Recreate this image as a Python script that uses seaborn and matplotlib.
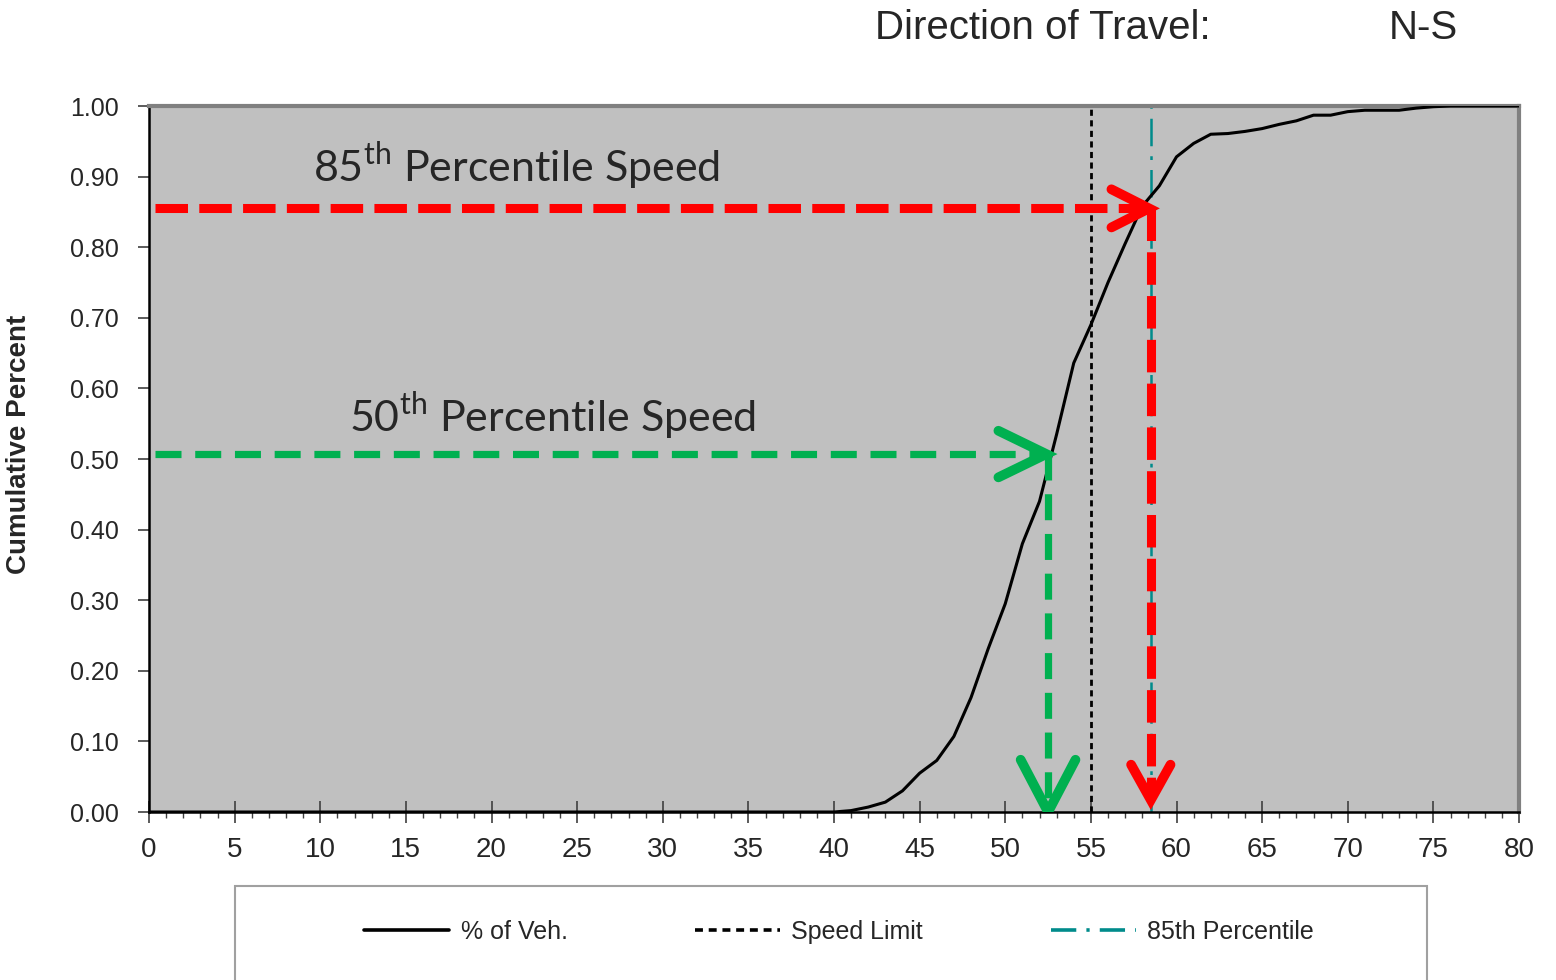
import numpy as np
import pandas as pd
import seaborn as sns
import matplotlib.pyplot as plt
from matplotlib.patches import Rectangle
from matplotlib.ticker import MultipleLocator

# cumulative share of vehicles by speed (mph)
speeds = list(range(0, 81))
cum_pct = ([0.0] * 41 +
           [0.002, 0.007, 0.014, 0.030, 0.055, 0.073, 0.107, 0.162, 0.231, 0.295,
            0.380, 0.440, 0.535, 0.636, 0.690, 0.750, 0.805, 0.858, 0.887, 0.928,
            0.947, 0.960, 0.961, 0.964, 0.968, 0.974, 0.979, 0.987, 0.987, 0.992,
            0.994, 0.994, 0.994, 0.997, 0.999, 1.0, 1.0, 1.0, 1.0, 1.0])

speed_limit = 55
p85 = 58.5
p50 = 52.5
level85 = 0.855
level50 = 0.507

sns.set_style("white")
plt.rcParams['font.family'] = ['Liberation Sans', 'DejaVu Sans']
plt.rcParams['mathtext.fontset'] = 'custom'
plt.rcParams['mathtext.rm'] = 'Lato'

df = pd.DataFrame({'speed': speeds, 'cum': cum_pct})

fig = plt.figure(figsize=(15.56, 9.8), dpi=100)
ax = fig.add_axes([149/1556, 1 - 812/980, 1370/1556, 706/980])
ax.set_facecolor('#C0C0C0')

sns.lineplot(data=df, x='speed', y='cum', ax=ax, color='black', lw=2.2,
             label='% of Veh.', zorder=3)
ax.axvline(speed_limit, color='black', ls=(0, (2.2, 1.6)), lw=2.0,
           label='Speed Limit', zorder=2)
ax.axvline(p85, color='#008B8B', ls=(0, (11, 4, 1.5, 4)), lw=1.8,
           label='85th Percentile', zorder=2)

# red / green percentile arrows
def arrow(px, level, color, lw, dash, tip_y, hw, hh, vw, vh):
    ax.plot([0.35, px - 0.15], [level, level], color=color, lw=lw,
            ls=(0, dash), dash_capstyle='butt', zorder=4)
    ax.plot([px, px], [level, tip_y + 0.01], color=color, lw=lw,
            ls=(0, dash), dash_capstyle='butt', zorder=4)
    # chevron heads
    ax.plot([px - hw, px - 0.1, px - hw], [level + hh, level, level - hh],
            color=color, lw=7, solid_capstyle='round', solid_joinstyle='miter', zorder=5)
    ax.plot([px - vw, px, px + vw], [tip_y + vh, tip_y, tip_y + vh],
            color=color, lw=7, solid_capstyle='round', solid_joinstyle='miter', zorder=5)

arrow(p85, level85, '#FF0000', 6.5, (3.6, 1.25), 0.017, 2.3, 0.027, 1.15, 0.05)
arrow(p50, level50, '#00B050', 5.2, (3.6, 1.9), 0.0, 2.9, 0.033, 1.6, 0.074)

ax.text(9.6, 0.893, r'85$^{\mathrm{th}}$ Percentile Speed', fontsize=31,
        family='Lato', va='baseline', zorder=6)
ax.text(11.7, 0.538, r'50$^{\mathrm{th}}$ Percentile Speed', fontsize=31,
        family='Lato', va='baseline', zorder=6)

ax.set_xlim(0, 80)
ax.set_ylim(0, 1.0)
ax.xaxis.set_major_locator(MultipleLocator(5))
ax.xaxis.set_minor_locator(MultipleLocator(1))
ax.yaxis.set_major_locator(MultipleLocator(0.1))
ax.set_yticklabels([f'{v:.2f}' for v in ax.get_yticks()])
ax.tick_params(axis='x', which='major', direction='inout', length=16, width=1.2,
               color='#404040', labelsize=20, pad=10)
ax.tick_params(axis='x', which='minor', direction='out', length=4, width=1,
               color='#404040')
ax.tick_params(axis='y', which='major', direction='out', length=8, width=1.2,
               color='#404040', labelsize=18, pad=14)
ax.tick_params(bottom=True, left=True, which='both')

for s in ['left', 'bottom']:
    ax.spines[s].set_color('black')
    ax.spines[s].set_linewidth(1.8)
for s in ['top', 'right']:
    ax.spines[s].set_color('#808080')
    ax.spines[s].set_linewidth(3)

ax.set_xlabel('')
ax.set_ylabel('Cumulative Percent', fontsize=20, fontweight='bold')
ax.yaxis.set_label_coords(-0.0854, 0.521)

fig.text(875/1556, 1 - 28/980, 'Direction of Travel:', fontsize=29, va='center', ha='left')
fig.text(1389/1556, 1 - 28/980, 'N-S', fontsize=29, va='center', ha='left')

# legend box
fig.patches.append(Rectangle((235/1556, -0.01), (1427 - 235)/1556, (980 - 886)/980 + 0.01,
                             transform=fig.transFigure, facecolor='white',
                             edgecolor='#A0A0A0', lw=1.5, zorder=-1))
leg = ax.legend(loc='center', bbox_to_anchor=(839/1556, 1 - 932/980),
                bbox_transform=fig.transFigure, ncol=3, frameon=False, fontsize=18,
                handlelength=3.4, handletextpad=0.45, columnspacing=5.1)
for h in leg.get_lines():
    h.set_linewidth(2.6)
leg.get_lines()[2].set_linestyle((0, (7, 2.8, 0.9, 2.8)))

fig.savefig('out.png', dpi=100)
